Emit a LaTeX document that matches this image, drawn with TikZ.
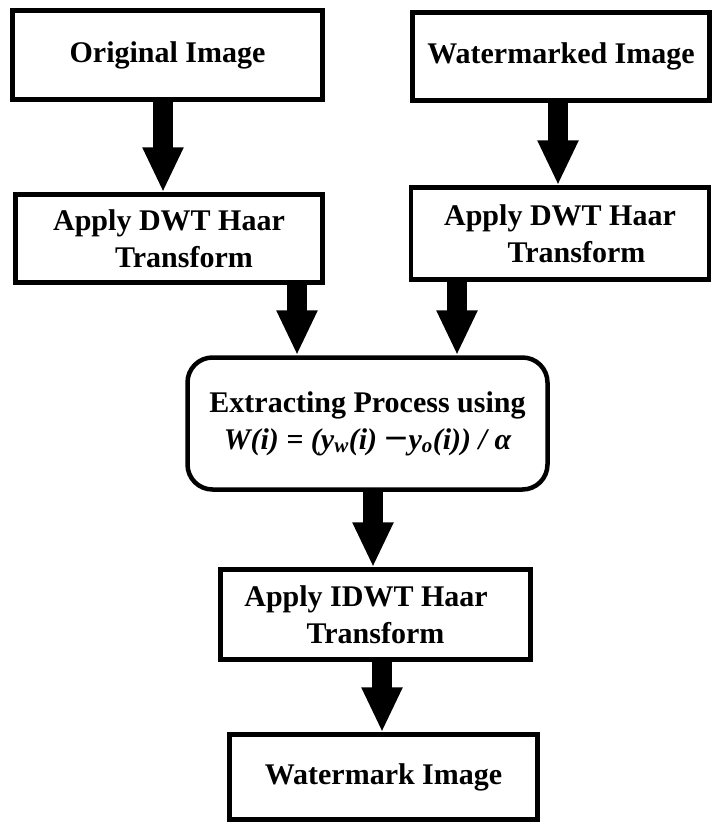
\documentclass[tikz,border=0pt]{standalone}
\usepackage{fontspec}
\setmainfont{Liberation Serif}
\usetikzlibrary{arrows.meta}
\tikzstyle{box}=[rectangle, draw=black, line width=4.5pt, inner sep=0pt, align=center,
                  font=\fontsize{30}{37}\selectfont\bfseries]
\tikzstyle{rbox}=[box, rounded corners=25pt]
\tikzstyle{blk}=[line width=20pt, -{Triangle[length=45pt, width=38pt]}]

\begin{document}
\begin{tikzpicture}[x=10pt, y=-10pt]
    \useasboundingbox (0,0) rectangle (71.3,82.3);
    \node[box, minimum width=310pt, minimum height=89pt] (orig) at (16.75,5.5) {Original Image};
    \node[box, minimum width=297pt, minimum height=88pt] (wmkd) at (56.1,5.65) {Watermarked Image};
    \node[box, minimum width=307pt, minimum height=88pt] (dwtL) at (16.9,23.85)
      {Apply DWT Haar\\\hspace*{1em}Transform};
    \node[box, minimum width=298pt, minimum height=92pt] (dwtR) at (56,23.35)
      {Apply DWT Haar\\\hspace*{1.1em}Transform};
    \node[rbox, minimum width=360pt, minimum height=132pt] (extr) at (36.75,42.35)
      {Extracting Process using\\
       \itshape W(i) = (y\textsubscript{w}(i) \textup{\raisebox{-0.08em}{\scalebox{1.4}[1.3]{−}}}y\textsubscript{o}(i)) / α};
    \node[box, minimum width=310pt, minimum height=90pt] (idwt) at (37.55,61.45)
      {Apply IDWT Haar\hspace*{0.63em}\\Transform};
    \node[box, minimum width=308pt, minimum height=85pt] (wmk) at (38.35,77.7) {Watermark Image};
    \foreach \from/\to/\dx in {orig/dwtL/-4.5, wmkd/dwtR/-3, dwtL/extr/128,
          dwtR/extr/-103, extr/idwt/5.5, idwt/wmk/6.5}
      \draw[blk] ([xshift=\dx pt]\from.south) -- ([xshift=\dx pt]\from.south |- \to.north);
    \end{tikzpicture}
\end{document}
